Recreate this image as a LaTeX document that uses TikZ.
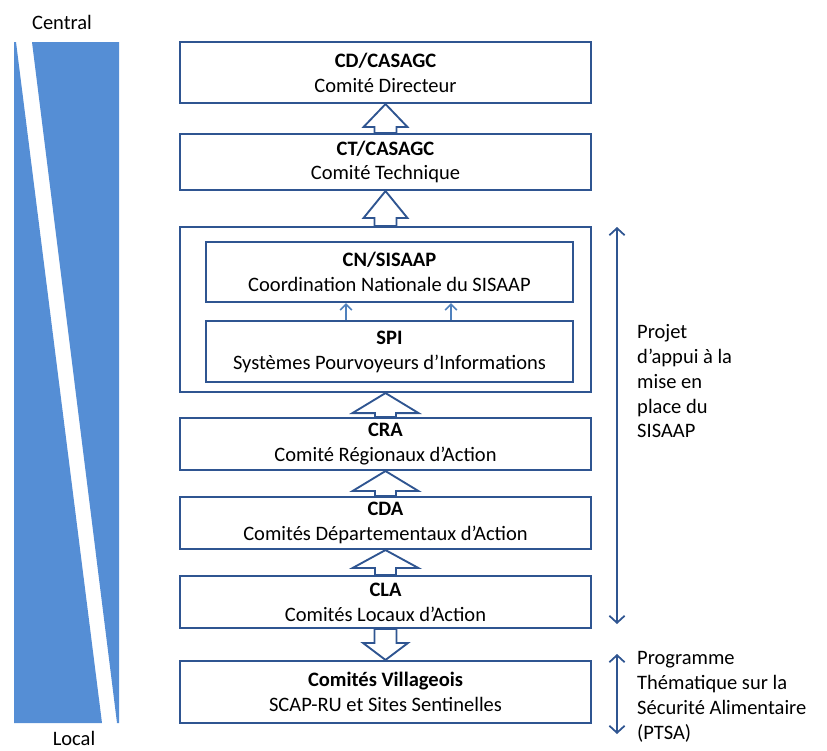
\documentclass[tikz,border=0pt]{standalone}
\usepackage{fontspec}
\setmainfont{Carlito}
\usetikzlibrary{arrows.meta,calc,positioning}
\definecolor{frameblue}{RGB}{47,85,145}
\definecolor{wedgeblue}{RGB}{85,142,213}
\definecolor{linkblue}{RGB}{79,129,189}
\tikzset{
  levelbox/.style={draw=frameblue,line width=1.8pt,fill=white,align=center,inner sep=0pt},
  blockarr/.style={draw=frameblue,line width=1.6pt,fill=white,line join=miter},
  linkarr/.style={-{Straight Barb[length=5pt,width=10pt]},linkblue,line width=1.4pt},
  spanarr/.style={{Straight Barb[length=6pt,width=13pt]}-{Straight Barb[length=6pt,width=13pt]},frameblue,line width=1.5pt},
  notes/.style={align=left,inner sep=0pt}
}
% hollow block arrow: tip, base, head half width, head length, shaft half width
\newcommand{\blockarrow}[5]{\draw[blockarr] (#1) -- ++(-#3,#4) -- ++(#3-#5,0) |- (#2)
  -- ++(#5,0) -- ($(#1)+(#5,#4)$) -- ++(#3-#5,0) -- cycle;}

\begin{document}
\begin{tikzpicture}[x=0.03cm,y=-0.03cm,font=\fontsize{17.5}{21.25}\selectfont]
\useasboundingbox (0,0) rectangle (827,751);
% central / local wedges
\fill[wedgeblue] (14,42) -- (16,42) -- (102,723) -- (14,723) -- cycle;
\fill[wedgeblue] (32,42) -- (119,42) -- (119,723) -- (117,723) -- cycle;
\node (central) at (62,22) {Central};
\node (local) at (74,738) {Local};
% levels
\node[levelbox,minimum width=12.33cm,minimum height=1.83cm] (cd) at (385.5,72.5)
  {\textbf{CD/CASAGC}\\Comité Directeur};
\node[levelbox,minimum width=12.33cm,minimum height=1.68cm] (ct) at (385.5,162)
  {\textbf{CT/CASAGC}\\Comité Technique};
\node[levelbox,minimum width=12.33cm,minimum height=4.95cm] (nat) at (385.5,309.5) {};
\node[levelbox,minimum width=11.01cm,minimum height=1.8cm] (cn) at (389.5,272)
  {\textbf{CN/SISAAP}\\Coordination Nationale du SISAAP};
\node[levelbox,minimum width=11.01cm,minimum height=1.83cm] (spi) at (389.5,351.5)
  {\textbf{SPI}\\Systèmes Pourvoyeurs d’Informations};
\node[levelbox,minimum width=12.33cm,minimum height=1.56cm] (cra) at (385.5,444)
  {\textbf{CRA}\\Comité Régionaux d’Action};
\node[levelbox,minimum width=12.33cm,minimum height=1.56cm] (cda) at (385.5,523)
  {\textbf{CDA}\\Comités Départementaux d’Action};
\node[levelbox,minimum width=12.33cm,minimum height=1.56cm] (cla) at (385.5,602)
  {\textbf{CLA}\\Comités Locaux d’Action};
\node[levelbox,minimum width=12.33cm,minimum height=1.86cm] (vill) at (385.5,692)
  {\textbf{Comités Villageois}\\SCAP-RU et Sites Sentinelles};
% block arrows
\blockarrow{cd.south}{ct.north}{22}{23}{11}
\blockarrow{ct.south}{nat.north}{22}{27}{11}
\blockarrow{nat.south}{cra.north}{33}{20}{10.5}
\blockarrow{cra.south}{cda.north}{33}{20}{10.5}
\blockarrow{cda.south}{cla.north}{33}{18}{10.5}
\blockarrow{vill.north}{cla.south}{22.5}{-17}{11}
\draw[linkarr] ($(spi.north)+(-43.5,0)$) -- ($(cn.south)+(-43.5,0)$);
\draw[linkarr] ($(spi.north)+(61.5,0)$) -- ($(cn.south)+(61.5,0)$);
% scope of the two programmes
\coordinate (p1) at (617,227);
\coordinate (p2) at (617,624);
\coordinate (q1) at (617,654);
\coordinate (q2) at (617,734);
\draw[spanarr] (p1) -- (p2);
\draw[spanarr] (q1) -- (q2);
\node[notes,anchor=north west] (proj) at (637,324)
  {Projet\\d’appui à la\\mise en\\place du\\SISAAP};
\node[notes,anchor=north west] (ptsa) at (637,651)
  {Programme\\Thématique sur la\\Sécurité Alimentaire\\(PTSA)};
\end{tikzpicture}
\end{document}
